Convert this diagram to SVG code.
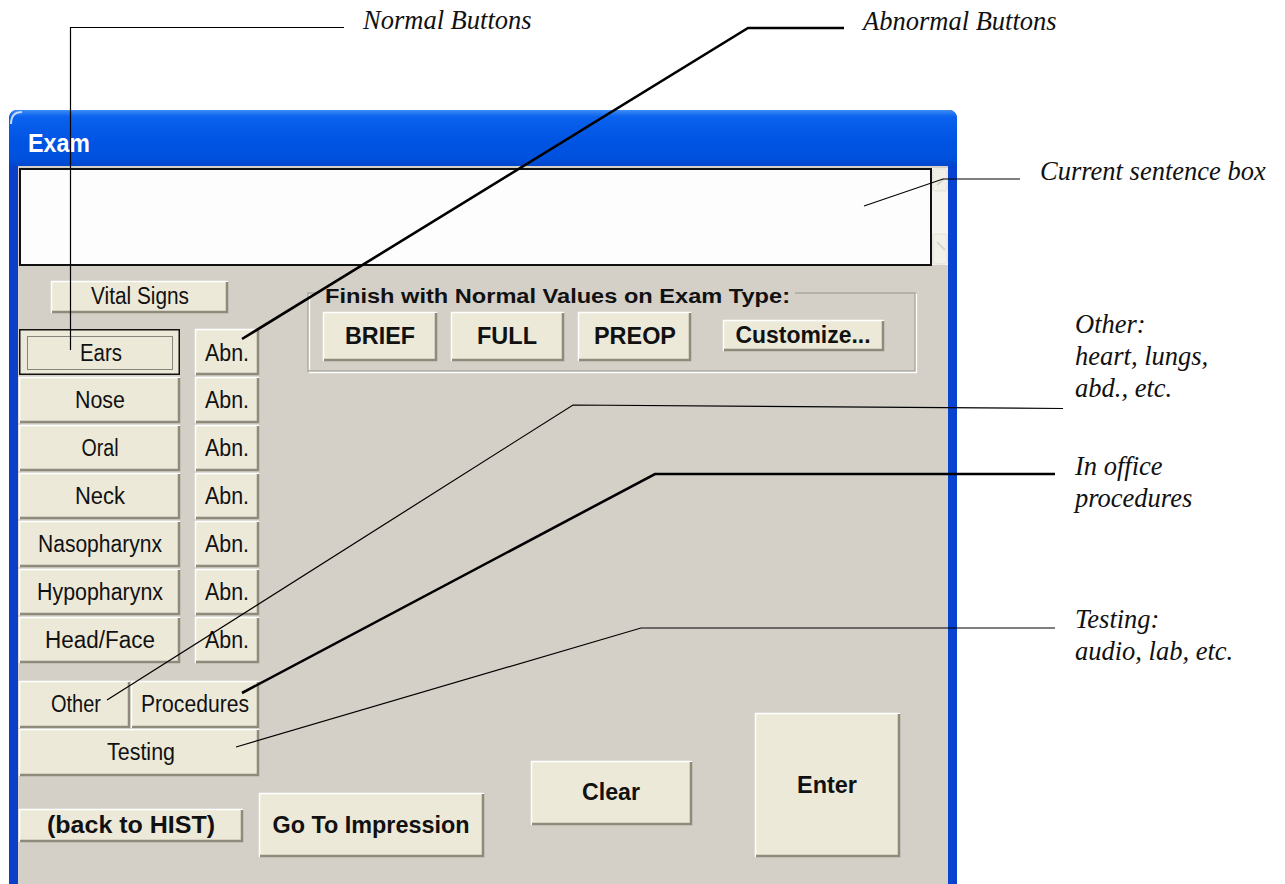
<svg xmlns="http://www.w3.org/2000/svg" width="1285" height="884" viewBox="0 0 1285 884">
  <defs>
    <linearGradient id="titleGrad" x1="0" y1="0" x2="0" y2="1">
      <stop offset="0" stop-color="#3D8CF5"/>
      <stop offset="0.12" stop-color="#0A62EE"/>
      <stop offset="0.55" stop-color="#0054E3"/>
      <stop offset="0.85" stop-color="#0052DE"/>
      <stop offset="1" stop-color="#0046CC"/>
    </linearGradient>
    <linearGradient id="sideGrad" x1="0" y1="0" x2="1" y2="0">
      <stop offset="0" stop-color="#0A3FC8"/>
      <stop offset="0.5" stop-color="#0B55E6"/>
      <stop offset="1" stop-color="#0842D0"/>
    </linearGradient>
    <style>
      .ui { font-family: "Liberation Sans", Arial, sans-serif; font-size: 23px; fill: #111; text-anchor: middle; }
      .uib { font-family: "Liberation Sans", Arial, sans-serif; font-size: 23px; font-weight: bold; fill: #111; text-anchor: middle; }
      .face { fill: #ECE9D8; }
      .hi { fill: none; stroke: #FFFFFF; stroke-width: 1.5; }
      .sh { fill: none; stroke: #8E8B7C; stroke-width: 2.5; }
      .note { font-family: "Liberation Serif", "Times New Roman", serif; font-style: italic; font-size: 26.5px; fill: #111; }
      .lead { fill: none; stroke: #000; stroke-width: 1.2; }
      .leadThick { fill: none; stroke: #000; stroke-width: 2.6; }
      .etchDark { fill: none; stroke: #A9A69A; stroke-width: 1.3; }
      .etchLight { fill: none; stroke: #FFFFFF; stroke-width: 1.3; }
    </style>
  </defs>

  <rect x="0" y="0" width="1285" height="884" fill="#FFFFFF"/>

  <!-- window frame -->
  <g id="window">
    <path d="M9,884 V119 Q9,110 18,110 H948 Q957,110 957,119 V884 Z" fill="url(#sideGrad)"/>
    <path d="M9,166 V119 Q9,110 18,110 H948 Q957,110 957,119 V166 Z" fill="url(#titleGrad)"/>
    <path d="M11,124 Q11,112 22,112" fill="none" stroke="#C8D8F5" stroke-width="2"/>
    <rect x="18" y="166" width="930" height="718" fill="#D4D0C8"/>
    <text x="28" y="152" font-family="'Liberation Sans', Arial, sans-serif" font-size="25" font-weight="bold" fill="#FFFFFF" textLength="62" lengthAdjust="spacingAndGlyphs">Exam</text>
  </g>

  <!-- sentence box with disabled scrollbar -->
  <g id="sentence-box">
    <rect x="20" y="169" width="911" height="96" fill="#FDFDFD" stroke="#111" stroke-width="2"/>
    <rect x="932" y="168" width="16" height="97" fill="#F4F3EE"/>
    <rect x="933" y="169" width="14" height="22" rx="2" fill="#F0EFE8" stroke="#E2E0D6" stroke-width="1"/>
    <path d="M937,185 L944,179" stroke="#D8D6CC" stroke-width="2" fill="none"/>
    <rect x="933" y="234" width="14" height="30" rx="2" fill="#F0EFE8" stroke="#E2E0D6" stroke-width="1"/>
    <path d="M937,242 L945,250" stroke="#D8D6CC" stroke-width="2" fill="none"/>
  </g>

  <!-- Vital Signs -->
  <g id="btn-vital">
    <rect class="face" x="51" y="281" width="177" height="32"/>
    <path class="hi" d="M51.5,313 V281.5 H228"/>
    <path class="sh" d="M52,312 H227 V282"/>
    <text class="ui" x="140" y="304" textLength="98" lengthAdjust="spacingAndGlyphs">Vital Signs</text>
  </g>

  <!-- normal exam buttons -->
  <g id="btn-ears">
    <rect class="face" x="19" y="329" width="161" height="46"/>
    <rect x="19.75" y="329.75" width="159.5" height="44.5" fill="none" stroke="#111" stroke-width="1.5"/>
    <rect x="27.5" y="336.5" width="145" height="33" fill="none" stroke="#222" stroke-width="1" stroke-dasharray="1,1"/>
    <text class="ui" x="101" y="361" textLength="42" lengthAdjust="spacingAndGlyphs">Ears</text>
  </g>
  <g id="btn-nose">
    <rect class="face" x="19" y="377" width="161" height="46"/>
    <path class="hi" d="M19.5,423 V377.5 H180"/>
    <path class="sh" d="M20,422 H179 V378"/>
    <text class="ui" x="100" y="408" textLength="50" lengthAdjust="spacingAndGlyphs">Nose</text>
  </g>
  <g id="btn-oral">
    <rect class="face" x="19" y="425" width="161" height="46"/>
    <path class="hi" d="M19.5,471 V425.5 H180"/>
    <path class="sh" d="M20,470 H179 V426"/>
    <text class="ui" x="100" y="456" textLength="37" lengthAdjust="spacingAndGlyphs">Oral</text>
  </g>
  <g id="btn-neck">
    <rect class="face" x="19" y="473" width="161" height="46"/>
    <path class="hi" d="M19.5,519 V473.5 H180"/>
    <path class="sh" d="M20,518 H179 V474"/>
    <text class="ui" x="100" y="504" textLength="50" lengthAdjust="spacingAndGlyphs">Neck</text>
  </g>
  <g id="btn-nasopharynx">
    <rect class="face" x="19" y="521" width="161" height="46"/>
    <path class="hi" d="M19.5,567 V521.5 H180"/>
    <path class="sh" d="M20,566 H179 V522"/>
    <text class="ui" x="100" y="552" textLength="124" lengthAdjust="spacingAndGlyphs">Nasopharynx</text>
  </g>
  <g id="btn-hypopharynx">
    <rect class="face" x="19" y="569" width="161" height="46"/>
    <path class="hi" d="M19.5,615 V569.5 H180"/>
    <path class="sh" d="M20,614 H179 V570"/>
    <text class="ui" x="100" y="600" textLength="126" lengthAdjust="spacingAndGlyphs">Hypopharynx</text>
  </g>
  <g id="btn-headface">
    <rect class="face" x="19" y="617" width="161" height="46"/>
    <path class="hi" d="M19.5,663 V617.5 H180"/>
    <path class="sh" d="M20,662 H179 V618"/>
    <text class="ui" x="100" y="648" textLength="110" lengthAdjust="spacingAndGlyphs">Head/Face</text>
  </g>

  <!-- abnormal buttons -->
  <g id="btn-abn-ears">
    <rect class="face" x="195" y="329" width="64" height="46"/>
    <path class="hi" d="M195.5,375 V329.5 H259"/>
    <path class="sh" d="M196,374 H258 V330"/>
    <text class="ui" x="227" y="361" textLength="44" lengthAdjust="spacingAndGlyphs">Abn.</text>
  </g>
  <g id="btn-abn-nose">
    <rect class="face" x="195" y="377" width="64" height="46"/>
    <path class="hi" d="M195.5,423 V377.5 H259"/>
    <path class="sh" d="M196,422 H258 V378"/>
    <text class="ui" x="227" y="408" textLength="44" lengthAdjust="spacingAndGlyphs">Abn.</text>
  </g>
  <g id="btn-abn-oral">
    <rect class="face" x="195" y="425" width="64" height="46"/>
    <path class="hi" d="M195.5,471 V425.5 H259"/>
    <path class="sh" d="M196,470 H258 V426"/>
    <text class="ui" x="227" y="456" textLength="44" lengthAdjust="spacingAndGlyphs">Abn.</text>
  </g>
  <g id="btn-abn-neck">
    <rect class="face" x="195" y="473" width="64" height="46"/>
    <path class="hi" d="M195.5,519 V473.5 H259"/>
    <path class="sh" d="M196,518 H258 V474"/>
    <text class="ui" x="227" y="504" textLength="44" lengthAdjust="spacingAndGlyphs">Abn.</text>
  </g>
  <g id="btn-abn-nasopharynx">
    <rect class="face" x="195" y="521" width="64" height="46"/>
    <path class="hi" d="M195.5,567 V521.5 H259"/>
    <path class="sh" d="M196,566 H258 V522"/>
    <text class="ui" x="227" y="552" textLength="44" lengthAdjust="spacingAndGlyphs">Abn.</text>
  </g>
  <g id="btn-abn-hypopharynx">
    <rect class="face" x="195" y="569" width="64" height="46"/>
    <path class="hi" d="M195.5,615 V569.5 H259"/>
    <path class="sh" d="M196,614 H258 V570"/>
    <text class="ui" x="227" y="600" textLength="44" lengthAdjust="spacingAndGlyphs">Abn.</text>
  </g>
  <g id="btn-abn-headface">
    <rect class="face" x="195" y="617" width="64" height="46"/>
    <path class="hi" d="M195.5,663 V617.5 H259"/>
    <path class="sh" d="M196,662 H258 V618"/>
    <text class="ui" x="227" y="648" textLength="44" lengthAdjust="spacingAndGlyphs">Abn.</text>
  </g>

  <!-- other / procedures / testing -->
  <g id="btn-other">
    <rect class="face" x="19" y="681" width="111" height="47"/>
    <path class="hi" d="M19.5,728 V681.5 H130"/>
    <path class="sh" d="M20,727 H129 V682"/>
    <text class="ui" x="76" y="712" textLength="50" lengthAdjust="spacingAndGlyphs">Other</text>
  </g>
  <g id="btn-procedures">
    <rect class="face" x="131" y="681" width="128" height="47"/>
    <path class="hi" d="M131.5,728 V681.5 H259"/>
    <path class="sh" d="M132,727 H258 V682"/>
    <text class="ui" x="195" y="712" textLength="108" lengthAdjust="spacingAndGlyphs">Procedures</text>
  </g>
  <g id="btn-testing">
    <rect class="face" x="19" y="729" width="240" height="47"/>
    <path class="hi" d="M19.5,776 V729.5 H259"/>
    <path class="sh" d="M20,775 H258 V730"/>
    <text class="ui" x="141" y="760" textLength="68" lengthAdjust="spacingAndGlyphs">Testing</text>
  </g>

  <!-- exam type group -->
  <g id="exam-type-group">
    <path class="etchDark" d="M318,293 H308 V371 H915 V293 H795"/>
    <path class="etchLight" d="M309.5,370 V294.5 M309,372.5 H916.5 V294"/>
    <text x="325" y="303" font-family="'Liberation Sans', Arial, sans-serif" font-size="20" font-weight="bold" fill="#111" textLength="465" lengthAdjust="spacingAndGlyphs">Finish with Normal Values on Exam Type:</text>
  </g>
  <g id="btn-brief">
    <rect class="face" x="323" y="312" width="114" height="49"/>
    <path class="hi" d="M323.5,361 V312.5 H437"/>
    <path class="sh" d="M324,360 H436 V313"/>
    <text class="uib" x="380" y="344" textLength="70" lengthAdjust="spacingAndGlyphs">BRIEF</text>
  </g>
  <g id="btn-full">
    <rect class="face" x="451" y="312" width="113" height="49"/>
    <path class="hi" d="M451.5,361 V312.5 H564"/>
    <path class="sh" d="M452,360 H563 V313"/>
    <text class="uib" x="507" y="344" textLength="60" lengthAdjust="spacingAndGlyphs">FULL</text>
  </g>
  <g id="btn-preop">
    <rect class="face" x="578" y="312" width="113" height="49"/>
    <path class="hi" d="M578.5,361 V312.5 H691"/>
    <path class="sh" d="M579,360 H690 V313"/>
    <text class="uib" x="635" y="344" textLength="82" lengthAdjust="spacingAndGlyphs">PREOP</text>
  </g>
  <g id="btn-customize">
    <rect class="face" x="723" y="320" width="161" height="31"/>
    <path class="hi" d="M723.5,351 V320.5 H884"/>
    <path class="sh" d="M724,350 H883 V321"/>
    <text class="uib" x="803" y="343" font-size="21" textLength="135" lengthAdjust="spacingAndGlyphs">Customize...</text>
  </g>

  <!-- bottom buttons -->
  <g id="btn-back">
    <rect class="face" x="19" y="809" width="224" height="33"/>
    <path class="hi" d="M19.5,842 V809.5 H243"/>
    <path class="sh" d="M20,841 H242 V810"/>
    <text class="uib" x="131" y="833" textLength="168" lengthAdjust="spacingAndGlyphs">(back to HIST)</text>
  </g>
  <g id="btn-impression">
    <rect class="face" x="259" y="793" width="225" height="64"/>
    <path class="hi" d="M259.5,857 V793.5 H484"/>
    <path class="sh" d="M260,856 H483 V794"/>
    <text class="uib" x="371" y="833" textLength="197" lengthAdjust="spacingAndGlyphs">Go To Impression</text>
  </g>
  <g id="btn-clear">
    <rect class="face" x="531" y="761" width="161" height="64"/>
    <path class="hi" d="M531.5,825 V761.5 H692"/>
    <path class="sh" d="M532,824 H691 V762"/>
    <text class="uib" x="611" y="800" textLength="58" lengthAdjust="spacingAndGlyphs">Clear</text>
  </g>
  <g id="btn-enter">
    <rect class="face" x="755" y="713" width="145" height="144"/>
    <path class="hi" d="M755.5,857 V713.5 H900"/>
    <path class="sh" d="M756,856 H899 V714"/>
    <text class="uib" x="827" y="793" textLength="60" lengthAdjust="spacingAndGlyphs">Enter</text>
  </g>

  <!-- callout labels -->
  <g id="label-normal">
    <text class="note" x="363" y="29">Normal Buttons</text>
  </g>
  <g id="label-abnormal">
    <text class="note" x="863" y="30">Abnormal Buttons</text>
  </g>
  <g id="label-sentence">
    <text class="note" x="1040" y="180">Current sentence box</text>
  </g>
  <g id="label-other">
    <text class="note" x="1075" y="333">Other:</text>
    <text class="note" x="1075" y="365">heart, lungs,</text>
    <text class="note" x="1075" y="397">abd., etc.</text>
  </g>
  <g id="label-procedures">
    <text class="note" x="1075" y="475">In office</text>
    <text class="note" x="1075" y="507">procedures</text>
  </g>
  <g id="label-testing">
    <text class="note" x="1075" y="628">Testing:</text>
    <text class="note" x="1075" y="660">audio, lab, etc.</text>
  </g>

  <!-- leader lines -->
  <g id="connectors">
    <polyline class="lead" points="344,27.5 70.5,27.5 70.5,350"/>
    <polyline class="leadThick" points="844,28 748,28 242,339"/>
    <polyline class="lead" points="1020,179 943,179 864,206"/>
    <polyline class="lead" points="1063,408.5 573,405 107,700"/>
    <polyline class="leadThick" points="1055,474 655,474 242,693"/>
    <polyline class="lead" points="1055,628 641,628 236,747"/>
  </g>
</svg>
